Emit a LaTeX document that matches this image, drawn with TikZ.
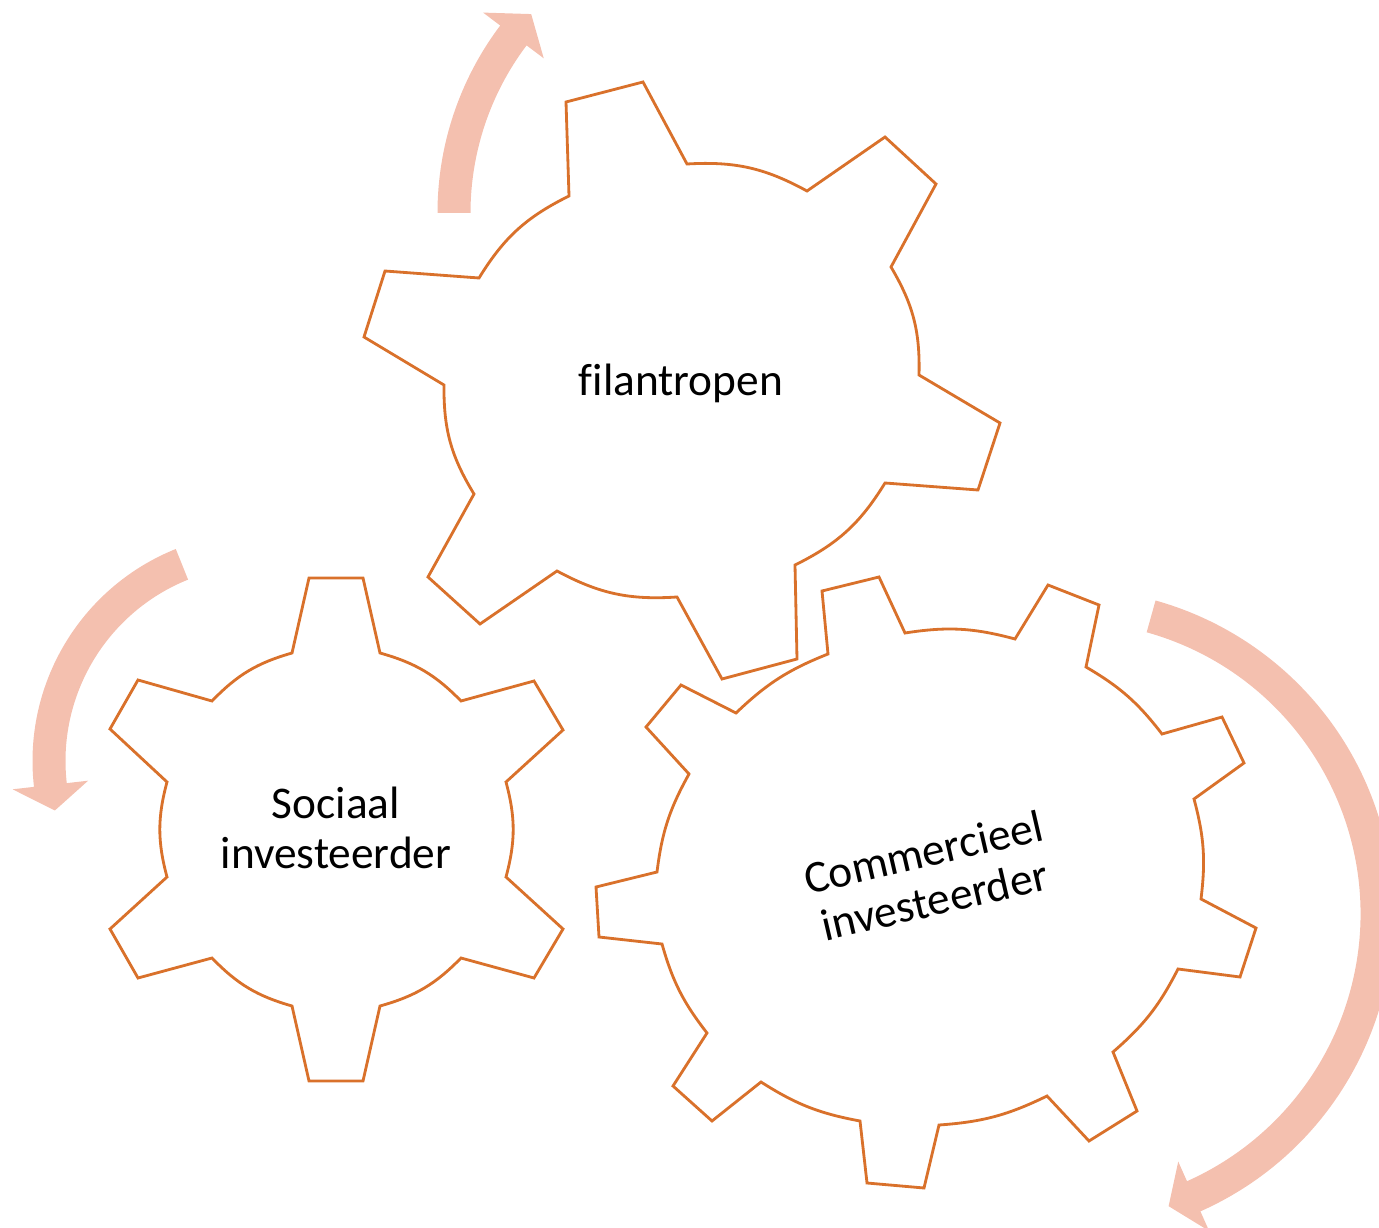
\documentclass[tikz,border=0pt]{standalone}
\usepackage{fontspec}
\setmainfont{Carlito}[Ligatures=NoCommon]
\usepackage{tikz}

\definecolor{gearline}{RGB}{217,113,43}
\definecolor{spinfill}{RGB}{244,192,175}

\tikzset{
  gear/.style={draw=gearline, line width=0.8pt, fill=white, line join=miter},
  spinarrow/.style={fill=spinfill},
  geartext/.style={font=\fontsize{12.9}{14}\selectfont, align=center, inner sep=0pt},
}

\begin{document}
\begin{tikzpicture}[x=0.01cm, y=-0.01cm]
  \clip (0,0) rectangle (1379,1228);

  % turning arrows (centre, inner/outer edge, head)
  \coordinate (c1) at (749,213);
  \coordinate (c2) at (261,761);
  \coordinate (c3) at (1068,914);

  \fill[spinarrow] ([shift={(-180:278.5)}]c1) arc[start angle=-180, end angle=-143, radius=278.5]
    -- ([shift={(-143:257)}]c1) -- ([shift={(-137.6:295)}]c1) -- ([shift={(-143:333)}]c1)
    -- ([shift={(-143:311.5)}]c1) arc[start angle=-143, end angle=-180, radius=311.5] -- cycle;

  \fill[spinarrow] ([shift={(-111.9:195.5)}]c2) arc[start angle=-111.9, end angle=-186.5, radius=195.5]
    -- ([shift={(-186.5:174)}]c2) -- ([shift={(-193.5:212)}]c2) -- ([shift={(-186.5:250)}]c2)
    -- ([shift={(-186.5:228.5)}]c2) arc[start angle=-186.5, end angle=-111.9, radius=228.5] -- cycle;

  \fill[spinarrow] ([shift={(-74.4:292.5)}]c3) arc[start angle=-74.4, end angle=66, radius=292.5]
    -- ([shift={(66:271)}]c3) -- ([shift={(71:309)}]c3) -- ([shift={(66:347)}]c3)
    -- ([shift={(66:325.5)}]c3) arc[start angle=66, end angle=-74.4, radius=325.5] -- cycle;

  % gears
  \draw[gear] (566,102) -- (643,82) -- (687,164) to[bend left=16] (807,191)
    -- (885,137) -- (936,184) -- (891,267) to[bend left=16] (919,375)
    -- (1000,423) -- (978,490) -- (885,483) to[bend left=16] (795,565)
    -- (797,659) -- (722,679) -- (677,597) to[bend left=16] (557,571)
    -- (480,624) -- (428,577) -- (474,494) to[bend left=16] (444,385)
    -- (364,337) -- (385,271) -- (479,278) to[bend left=16] (569,196) -- cycle;

  \draw[gear] (309,578) -- (363,578) -- (380,653) to[bend left=15] (461,701)
    -- (534,681) -- (563,730) -- (506,782) to[bend left=15] (506,877)
    -- (563,929) -- (534,978) -- (461,958) to[bend left=15] (380,1006)
    -- (363,1081) -- (309,1081) -- (292,1006) to[bend left=15] (212,958)
    -- (138,978) -- (110,929) -- (167,877) to[bend left=15] (167,782)
    -- (110,729) -- (138,680) -- (212,701) to[bend left=15] (292,653) -- cycle;

  \draw[gear] (822,591) -- (879,577) -- (905,633) to[bend left=12] (1015,639)
    -- (1048,585) -- (1099,605) -- (1086,667) to[bend left=11] (1162,734)
    -- (1222,717) -- (1244,763) -- (1194,799) to[bend left=11] (1201,899)
    -- (1256,928) -- (1240,977) -- (1178,969) to[bend left=11] (1113,1052)
    -- (1137,1111) -- (1089,1141) -- (1047,1096) to[bend left=11] (939,1125)
    -- (924,1188) -- (867,1183) -- (860,1121) to[bend left=11] (761,1082)
    -- (712,1121) -- (673,1086) -- (707,1033) to[bend left=11] (662,944)
    -- (599,937) -- (596,887) -- (657,872) to[bend left=11] (689,774)
    -- (646,727) -- (681,685) -- (736,713) to[bend left=11] (828,654) -- cycle;

  % labels
  \node[geartext] (filantropen) at (681,383) {filantropen};
  \node[geartext] (sociaal) at (336,828) {Sociaal\\investeerder};
  \node[geartext, rotate=13] (commercieel) at (929,876) {Commercieel\\investeerder};
\end{tikzpicture}
\end{document}
